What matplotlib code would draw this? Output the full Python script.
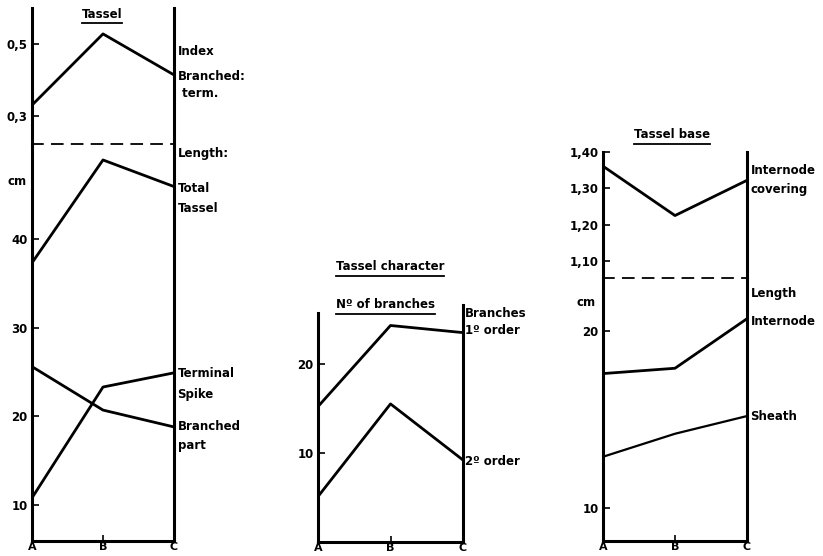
import matplotlib
matplotlib.use("Agg")
import matplotlib.pyplot as plt
from matplotlib.lines import Line2D

W, H = 823, 556
plt.rcParams['font.family'] = 'DejaVu Sans'
plt.rcParams['font.weight'] = 'bold'
plt.rcParams['font.size'] = 8

GROUPS = ["A", "B", "C"]

# Tassel
index_branched_term = [0.33, 0.528, 0.414]
total_tassel = [37.3, 48.9, 45.9]
terminal_spike = [10.8, 23.3, 24.9]
branched_part = [25.6, 20.7, 18.8]

# Tassel character, number of branches
branches_1st = [15.2, 24.3, 23.5]
branches_2nd = [5.1, 15.5, 9.2]

# Tassel base
internode_covering = [1.361, 1.225, 1.322]
internode_length = [17.6, 17.9, 20.7]
sheath_length = [12.9, 14.2, 15.2]

LW = 2.0
SPINE = 2.2

fig = plt.figure(figsize=(W / 100, H / 100), dpi=100)


def px_axes(x0, x1, ytop, ybot):
    return fig.add_axes([x0 / W, 1 - ybot / H, (x1 - x0) / W, (ybot - ytop) / H])


def style(ax, top=False, bottom=False):
    ax.set_facecolor('none')
    ax.set_xlim(0, 2)
    for s in ['left', 'right']:
        ax.spines[s].set_linewidth(SPINE)
    ax.spines['top'].set_visible(top)
    ax.spines['bottom'].set_visible(bottom)
    ax.spines['bottom'].set_linewidth(SPINE)
    ax.tick_params(axis='y', direction='in', length=5, width=1.2, pad=3,
                   labelsize=8.5, right=False)
    if bottom:
        ax.set_xticks([0, 1, 2])
        ax.set_xticklabels(GROUPS, fontsize=8)
        ax.tick_params(axis='x', direction='in', length=4, width=1.2, pad=1)
    else:
        ax.set_xticks([])


def dashed_top(ax):
    ax.spines['top'].set_visible(True)
    ax.spines['top'].set_linewidth(1.3)
    ax.spines['top'].set_linestyle((0, (6, 5)))


def side_labels(ax, items, dx=0.05):
    for txt, y in items:
        ax.text(2 + dx, y, txt, ha='left', va='center', fontsize=8.5,
                clip_on=False)


x = range(3)

# ---- panel 1: Tassel
a1u = px_axes(32, 174, 8, 144)
style(a1u)
a1u.set_ylim(0.222, 0.6)
a1u.set_yticks([0.3, 0.5])
a1u.set_yticklabels(['0,3', '0,5'])
a1u.plot(x, index_branched_term, color='black', lw=LW)
side_labels(a1u, [('Index', 0.478), ('Branched:', 0.411), (' term.', 0.361)])

a1l = px_axes(32, 174, 144, 541)
style(a1l, bottom=True)
dashed_top(a1l)
a1l.set_ylim(5.94, 50.7)
a1l.set_yticks([10, 20, 30, 40])
a1l.plot(x, total_tassel, color='black', lw=LW)
a1l.plot(x, terminal_spike, color='black', lw=LW)
a1l.plot(x, branched_part, color='black', lw=LW)
a1l.text(-0.08, 46.5, 'cm', ha='right', va='center', fontsize=8.5)
side_labels(a1l, [('Length:', 49.6), ('Total', 45.7), ('Tassel', 43.4),
                  ('Terminal', 24.8), ('Spike', 22.5),
                  ('Branched', 18.8), ('part', 16.7)])

# ---- panel 2: Tassel character
a2 = px_axes(318, 463, 305, 542)
style(a2, bottom=True)
a2.set_ylim(0, 26.6)
a2.spines['left'].set_bounds(0, 25.7)
a2.set_yticks([10, 20])
a2.plot(x, branches_1st, color='black', lw=LW)
a2.plot(x, branches_2nd, color='black', lw=LW)
side_labels(a2, [('Branches', 25.6), ('1º order', 23.7), ('2º order', 9.0)],
            dx=0.03)

# ---- panel 3: Tassel base
a3u = px_axes(603, 747, 152, 278)
style(a3u)
a3u.set_ylim(1.053, 1.40)
a3u.set_yticks([1.1, 1.2, 1.3, 1.4])
a3u.set_yticklabels(['1,10', '1,20', '1,30', '1,40'])
a3u.plot(x, internode_covering, color='black', lw=LW)
side_labels(a3u, [('Internode', 1.35), ('covering', 1.297)])

a3l = px_axes(603, 747, 278, 541)
style(a3l, bottom=True)
dashed_top(a3l)
a3l.set_ylim(8.14, 23.0)
a3l.set_yticks([10, 20])
a3l.plot(x, internode_length, color='black', lw=LW)
a3l.plot(x, sheath_length, color='black', lw=1.6)
a3l.text(-0.1, 21.6, 'cm', ha='right', va='center', fontsize=8.5)
side_labels(a3l, [('Length', 22.15), ('Internode', 20.56), ('Sheath', 15.2)])

# underlined headings
headings = [('Tassel', 102, 14), ('Tassel character', 390, 267),
            ('Nº of branches', 385, 305), ('Tassel base', 672, 135)]
fig.canvas.draw()
renderer = fig.canvas.get_renderer()
for txt, cx, cy in headings:
    t = fig.text(cx / W, 1 - cy / H, txt, ha='center', va='center', fontsize=8.5)
    bb = t.get_window_extent(renderer)
    yl = bb.y0 - 2
    fig.add_artist(Line2D([bb.x0 / W, bb.x1 / W], [yl / H, yl / H],
                          color='black', lw=1.3))

fig.savefig('out.png', dpi=100)
